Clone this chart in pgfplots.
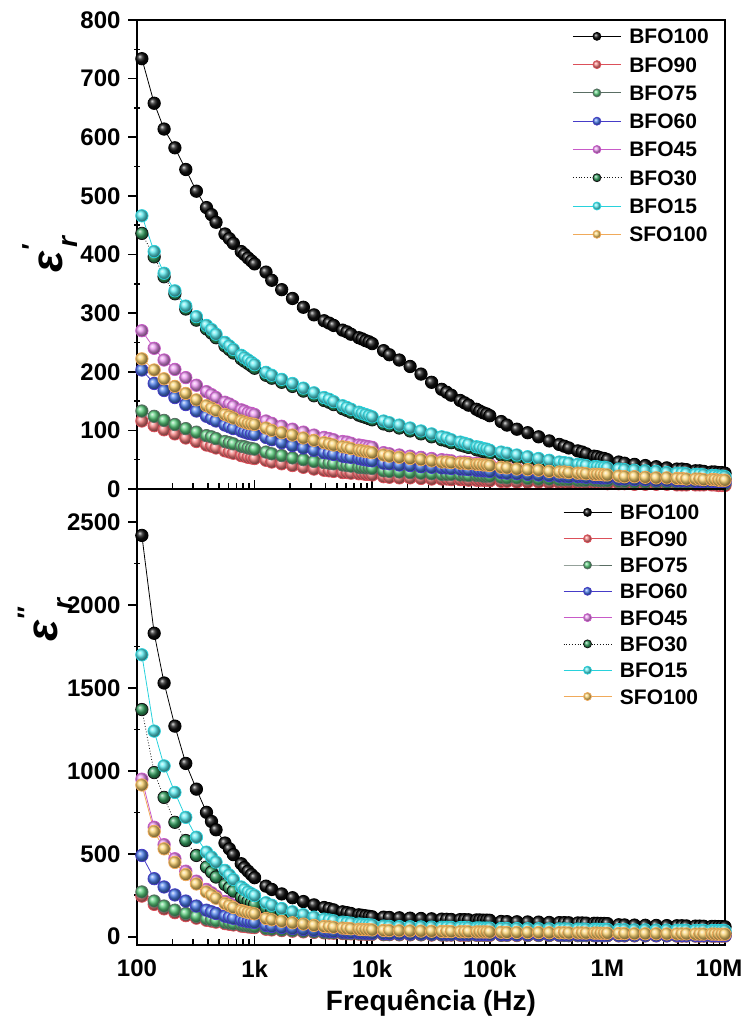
\documentclass[border=0pt]{standalone}
\usepackage{pgfplots}
\usepackage{pgfplotstable}
\pgfplotsset{compat=1.18}
\usepackage{fontspec}
\setmainfont{Liberation Sans}
\definecolor{la}{RGB}{0,0,0}
\definecolor{lb}{RGB}{220,80,90}
\definecolor{lc}{RGB}{90,110,100}
\definecolor{ld}{RGB}{70,60,200}
\definecolor{le}{RGB}{200,90,200}
\definecolor{lg}{RGB}{20,20,20}
\definecolor{lh}{RGB}{40,210,220}
\definecolor{ls}{RGB}{240,170,90}
\definecolor{ba}{RGB}{15,15,15}
\definecolor{bb}{RGB}{245,125,125}
\definecolor{bc}{RGB}{90,205,125}
\definecolor{bd}{RGB}{75,125,235}
\definecolor{be}{RGB}{235,150,240}
\definecolor{bg}{RGB}{50,160,95}
\definecolor{bh}{RGB}{90,235,240}
\definecolor{bs}{RGB}{250,210,110}

\pgfplotstableread{
f a b c d e g h s
110 734 116 133 203 270 436 466 222
140 658 108 124 180 240 396 405 203
170 614 101 117 168 220 362 368 188
210 582 94 110 156 204 333 338 175
260 545 87 103 144 190 307 312 163
320 508 81 97 133 177 288 294 152
390 480 75 91 124 166 273 279 142
430 468 73 89 120 161 266 272 138
470 455 70 86 116 156 258 264 134
560 435 65 81 109 148 244 250 127
610 427 63 79 106 145 238 244 124
660 419 61 77 103 141 232 238 121
770 405 57 73 99 135 222 228 116
820 400 56 72 97 133 218 224 114
880 394 54 70 95 130 214 220 112
940 389 53 69 94 129 210 216 111
1000 384 52 68 93 127 206 212 110
1250 370 49 63 88 116 194 199 104
1400 356 46 60 84 112 189 194 100
1700 340 43 57 79 107 182 187 96
2100 325 40 53 74 102 175 180 92
2600 310 37 50 70 97 167 172 87
3200 297 34 47 66 92 159 164 83
3900 287 32 45 62 88 151 156 79
4300 283 31 44 61 86 148 153 77
4700 279 30 43 59 84 144 149 75
5600 271 28 41 56 81 137 142 72
6100 268 28 40 55 80 134 139 71
6600 264 27 39 54 78 131 136 69
7700 258 26 37 52 75 126 131 66
8200 256 26 37 51 74 124 129 65
8800 253 25 36 50 73 122 127 64
9400 251 25 36 49 72 120 125 63
10000 248 24 35 48 71 118 123 62
12500 236 21 31 44 62 111 116 58
14000 229 20 30 43 60 108 113 56
17000 220 19 29 41 58 104 109 54
21000 209 19 28 40 56 99 104 52
26000 196 18 27 38 54 94 99 50
32000 182 17 26 37 52 89 94 48
39000 170 17 25 36 50 84 89 46
43000 165 17 25 36 49 82 87 46
47000 160 16 25 35 48 79 84 45
56000 151 16 24 34 46 75 80 44
61000 147 16 24 34 46 73 78 44
66000 143 15 23 33 45 71 76 43
77000 136 15 23 32 44 67 72 42
82000 133 15 23 32 44 66 71 42
88000 130 15 22 31 43 64 69 41
94000 128 15 22 31 43 63 68 41
100000 125 14 22 30 42 61 66 40
125000 115 13 20 28 38 58 63 37
140000 109 13 19 27 37 56 61 36
170000 102 12 19 26 35 53 58 34
210000 96 12 18 25 34 50 55 33
260000 89 12 17 24 33 47 52 32
320000 82 11 17 23 31 44 49 30
390000 76 11 16 22 30 41 46 29
430000 73 11 16 22 30 40 45 29
470000 70 11 16 21 29 39 44 28
560000 65 10 15 21 28 37 42 27
610000 63 10 15 21 28 36 41 27
660000 60 10 15 20 27 35 40 26
770000 56 10 15 20 26 33 38 25
820000 55 10 15 20 26 33 38 25
880000 53 10 14 19 25 32 37 25
940000 52 10 14 19 25 32 37 24
1000000 50 9 14 19 25 31 36 24
1250000 46 9 13 17 23 29 34 22
1400000 44 9 13 17 22 28 33 21
1700000 42 8 12 16 22 27 32 21
2100000 40 8 12 16 21 26 31 20
2600000 38 8 12 15 20 25 30 19
3200000 36 8 11 15 20 24 28 19
3900000 34 7 11 14 19 23 27 18
4300000 34 7 11 14 19 23 27 18
4700000 33 7 11 14 18 22 26 17
5600000 31 7 10 13 18 21 25 17
6100000 31 7 10 13 18 21 25 17
6600000 30 7 10 13 17 20 24 16
7700000 29 7 10 13 17 19 23 16
8200000 29 7 10 13 17 19 23 16
8800000 28 6 10 12 16 18 22 15
9400000 28 6 10 12 16 18 22 15
10000000 27 6 9 12 16 17 21 15
}\toptab

\pgfplotstableread{
f a b c d e g h s
110 2420 245 270 490 950 1370 1700 915
140 1830 195 215 350 660 990 1240 635
170 1530 168 185 300 555 840 1030 530
210 1270 145 160 252 470 690 870 448
260 1045 127 140 215 395 580 720 375
320 890 112 123 185 335 490 600 318
390 750 99 108 160 285 420 510 270
430 695 94 102 150 265 390 480 251
470 645 88 96 140 245 360 450 232
560 565 79 86 124 212 315 400 200
610 530 75 82 118 200 295 372 188
660 495 71 78 111 188 275 345 176
770 440 64 71 100 170 240 300 158
820 417 62 68 96 164 228 285 152
880 395 59 65 92 158 215 270 146
940 375 57 63 89 154 205 259 142
1000 356 55 60 86 150 195 248 138
1250 305 45 50 68 118 172 205 110
1400 285 41 46 62 110 160 190 102
1700 258 37 41 56 100 145 170 93
2100 235 33 37 50 90 130 150 84
2600 212 29 33 44 81 116 133 76
3200 192 26 29 39 73 104 118 68
3900 176 23 26 35 66 93 106 62
4300 169 22 25 33 63 88 101 60
4700 162 21 24 31 60 84 96 57
5600 150 19 22 28 55 77 88 52
6100 145 18 21 27 53 74 85 50
6600 140 17 20 26 51 71 82 48
7700 132 16 18 24 48 66 77 45
8200 129 16 18 23 47 64 75 44
8800 126 15 17 22 45 62 73 43
9400 123 15 17 22 44 61 72 42
10000 120 14 16 21 43 59 70 41
12500 118 12 14 19 40 54 64 38
14000 116 12 14 18 39 52 62 37
17000 114 11 13 18 38 50 61 36
21000 112 11 13 17 37 48 60 35
26000 110 11 12 17 36 47 59 34
32000 108 10 12 16 35 46 58 33
39000 106 10 11 16 34 45 57 32
43000 105 10 11 16 34 45 57 32
47000 104 10 11 15 33 44 56 31
56000 103 9 11 15 32 43 55 30
61000 103 9 11 15 32 43 55 30
66000 102 9 10 15 31 42 54 30
77000 101 9 10 14 31 41 53 29
82000 101 9 10 14 31 41 53 29
88000 100 9 10 14 30 40 52 29
94000 100 9 10 14 30 40 52 29
100000 99 8 10 14 30 40 52 28
125000 92 8 9 13 28 37 50 27
140000 91 8 9 13 27 36 49 26
170000 90 7 9 12 27 35 49 26
210000 89 7 8 12 26 34 48 25
260000 88 7 8 12 26 34 48 25
320000 86 7 8 12 25 33 47 24
390000 85 7 8 11 25 32 47 24
430000 85 7 8 11 25 32 47 24
470000 84 6 7 11 24 32 46 23
560000 83 6 7 11 24 31 46 23
610000 83 6 7 11 24 31 46 23
660000 82 6 7 11 23 30 45 22
770000 81 6 7 10 23 30 45 22
820000 81 6 7 10 23 30 45 22
880000 80 6 7 10 22 29 44 21
940000 80 6 7 10 22 29 44 21
1000000 79 6 7 10 22 29 44 21
1250000 72 5 6 9 20 27 42 19
1400000 71 5 6 9 20 26 42 19
1700000 70 5 6 9 19 26 41 18
2100000 69 5 6 9 19 25 41 18
2600000 68 5 6 8 19 25 40 18
3200000 67 5 5 8 18 24 40 17
3900000 66 4 5 8 18 24 39 17
4300000 66 4 5 8 18 24 39 17
4700000 65 4 5 8 18 23 39 17
5600000 64 4 5 8 17 23 38 16
6100000 64 4 5 8 17 23 38 16
6600000 63 4 5 7 17 22 38 16
7700000 62 4 5 7 17 22 37 16
8200000 62 4 5 7 17 22 37 16
8800000 61 4 5 7 16 21 37 15
9400000 61 4 5 7 16 21 37 15
10000000 60 4 5 7 16 21 36 15
}\bottab

\pgfplotsset{
  myser/.style n args={3}{color=#1, line width=0.4pt, #3, mark=ball, mark size=3.1pt,
     mark options={solid, ball color=#2}},
  myaxis/.style={
    scale only axis, width=294pt,
    xmin=100, xmax=1e7,
    xtick={100,1000,10000,100000,1000000,10000000},
    tick align=inside, xtick pos=left, ytick pos=left,
    major tick length=4.5pt, minor tick length=3pt,
    every tick/.style={black, line width=0.8pt},
    axis line style={line width=1pt},
    tick label style={font=\fontsize{12}{12}\selectfont\bfseries},
    /pgf/number format/assume math mode=true,
    /pgf/number format/1000 sep={},
    minor y tick num=1,
    every major y tick/.append style={xshift=-4.5pt},
    every minor y tick/.append style={xshift=-1.5pt},
    yticklabel style={xshift=-4.7pt},
    xticklabel style={yshift=-4pt},
    legend cell align=left,
    legend style={draw=none, fill=none, inner sep=0pt, column sep=4pt,
       font=\fontsize{10.5}{10.5}\selectfont\bfseries, anchor=north west,
       nodes={inner sep=0pt, text height=7.5pt, text depth=0pt}},
  },
}

\begin{document}
\begin{tikzpicture}
\useasboundingbox (0,0) rectangle (372pt,514pt);
\begin{semilogxaxis}[myaxis, at={(68.5pt,269.5pt)}, anchor=south west, height=234.5pt,
  ymin=0, ymax=800, ytick={0,100,...,800}, xticklabels={},
  legend image code/.code={\draw[mark repeat=2,mark phase=2,#1,mark size=2pt] plot coordinates {(0pt,0pt) (12pt,0pt) (24pt,0pt)};},
  ylabel={\fontsize{22}{22}\selectfont\bfseries\itshape ε\raisebox{0.5em}{\fontsize{13}{13}\selectfont ′}\kern-1pt\raisebox{-0.35em}{\fontsize{14}{14}\selectfont r}},
  ylabel style={at={(axis description cs:-0.148,0.5)}, anchor=center},
  legend style={at={(0.74,0.982)}, row sep=6.64pt}]
\addplot[myser={la}{ba}{solid}] table[x=f,y=a]{\toptab};
\addplot[myser={lb}{bb}{solid}] table[x=f,y=b]{\toptab};
\addplot[myser={lc}{bc}{solid}] table[x=f,y=c]{\toptab};
\addplot[myser={ld}{bd}{solid}] table[x=f,y=d]{\toptab};
\addplot[myser={le}{be}{solid}] table[x=f,y=e]{\toptab};
\addplot[myser={lg}{bg}{densely dotted}] table[x=f,y=g]{\toptab};
\addplot[myser={lh}{bh}{solid}] table[x=f,y=h]{\toptab};
\addplot[myser={ls}{bs}{solid}] table[x=f,y=s]{\toptab};
\legend{BFO100,BFO90,BFO75,BFO60,BFO45,BFO30,BFO15,SFO100}
\end{semilogxaxis}
\begin{semilogxaxis}[myaxis, at={(68.5pt,41.5pt)}, anchor=south west, height=228pt,
  ymin=-50, ymax=2700, ytick={0,500,...,2500},
  xticklabels={100,1k,10k,100k,1M,\hspace{-6pt}10M},
  legend image code/.code={\draw[mark repeat=2,mark phase=2,#1,mark size=2pt] plot coordinates {(0pt,0pt) (12pt,0pt) (24pt,0pt)};},
  xlabel={Frequência (Hz)},
  xlabel style={font=\fontsize{14}{14}\selectfont\bfseries, at={(axis description cs:0.5,0)}, anchor=center, yshift=-29pt},
  ylabel={\fontsize{22}{22}\selectfont\bfseries\itshape ε\raisebox{0.5em}{\fontsize{13}{13}\selectfont ″}\kern-1pt\raisebox{-0.35em}{\fontsize{14}{14}\selectfont r}},
  ylabel style={at={(axis description cs:-0.156,0.713)}, anchor=center},
  legend style={at={(0.724,0.966)}, row sep=5.65pt}]
\addplot[myser={la}{ba}{solid}] table[x=f,y=a]{\bottab};
\addplot[myser={lb}{bb}{solid}] table[x=f,y=b]{\bottab};
\addplot[myser={lc}{bc}{solid}] table[x=f,y=c]{\bottab};
\addplot[myser={ld}{bd}{solid}] table[x=f,y=d]{\bottab};
\addplot[myser={le}{be}{solid}] table[x=f,y=e]{\bottab};
\addplot[myser={lg}{bg}{densely dotted}] table[x=f,y=g]{\bottab};
\addplot[myser={lh}{bh}{solid}] table[x=f,y=h]{\bottab};
\addplot[myser={ls}{bs}{solid}] table[x=f,y=s]{\bottab};
\legend{BFO100,BFO90,BFO75,BFO60,BFO45,BFO30,BFO15,SFO100}
\end{semilogxaxis}
\end{tikzpicture}
\end{document}
